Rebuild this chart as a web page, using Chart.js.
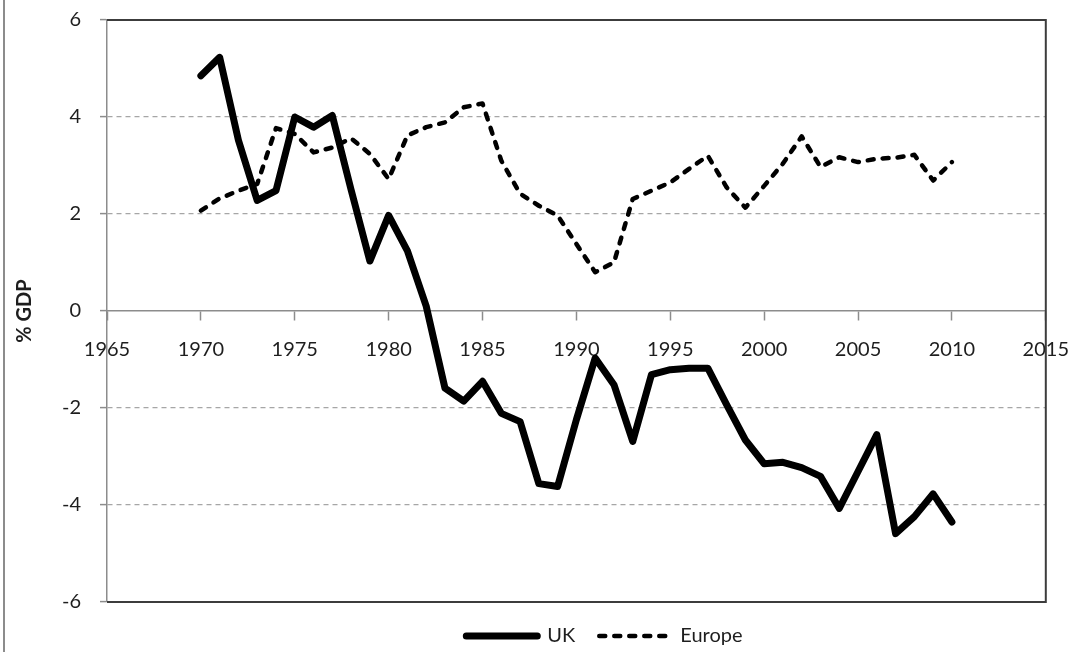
<!DOCTYPE html>
<html lang="en">
<head>
  <meta charset="UTF-8">
  <title>% GDP – UK vs Europe</title>
  <style>
    html, body { margin: 0; padding: 0; background: #fff; }
    #wrap { position: relative; width: 1087px; height: 652px; }
    #frame { position: absolute; left: 3px; top: 0; width: 2px; height: 652px; background: #8c8c8c; }
    canvas { display: block; }
  </style>
</head>
<body>
  <div id="wrap">
    <canvas id="grafico" width="1087" height="652"></canvas>
    <div id="frame"></div>
  </div>
  <script src="https://cdn.jsdelivr.net/npm/chart.js"></script>
  <script>
    // dados
    const years = [1970, 1971, 1972, 1973, 1974, 1975, 1976, 1977, 1978, 1979,
                   1980, 1981, 1982, 1983, 1984, 1985, 1986, 1987, 1988, 1989,
                   1990, 1991, 1992, 1993, 1994, 1995, 1996, 1997, 1998, 1999,
                   2000, 2001, 2002, 2003, 2004, 2005, 2006, 2007, 2008, 2009,
                   2010];
    const uk = [4.85, 5.23, 3.52, 2.28, 2.48, 4.0, 3.79, 4.03, 2.5, 1.03,
                1.97, 1.24, 0.1, -1.59, -1.86, -1.45, -2.11, -2.28, -3.56, -3.62,
                -2.24, -0.97, -1.52, -2.69, -1.31, -1.21, -1.18, -1.18, -1.93, -2.66,
                -3.15, -3.12, -3.23, -3.41, -4.07, -3.31, -2.55, -4.59, -4.24, -3.77,
                -4.35];
    const europe = [2.07, 2.32, 2.48, 2.62, 3.77, 3.65, 3.27, 3.37, 3.56, 3.24,
                    2.72, 3.62, 3.79, 3.89, 4.2, 4.28, 3.1, 2.42, 2.17, 1.97,
                    1.38, 0.8, 1.0, 2.31, 2.48, 2.65, 2.93, 3.2, 2.55, 2.13,
                    2.58, 3.04, 3.6, 2.97, 3.17, 3.07, 3.14, 3.16, 3.22, 2.69,
                    3.07];
    const xTicks = [1965, 1970, 1975, 1980, 1985, 1990, 1995, 2000, 2005, 2010, 2015];
    const yTicks = [-6, -4, -2, 0, 2, 4, 6];
    const seriesNames = ['UK', 'Europe'];
    const yTitle = '% GDP';

    // borda da área do gráfico (topo, direita, base) + ajuste da legenda
    const molduraPlugin = {
      id: 'moldura',
      afterLayout(chart) {
        // legenda do original fica um pouco à direita do centro
        chart.legend.left += 28;
        chart.legend.right += 28;
      },
      beforeDatasetsDraw(chart) {
        const { ctx, chartArea: a } = chart;
        ctx.save();
        ctx.strokeStyle = '#3c3c3c';
        ctx.lineWidth = 2;
        ctx.beginPath();
        ctx.moveTo(a.left, a.top);
        ctx.lineTo(a.right, a.top);
        ctx.lineTo(a.right, a.bottom);
        ctx.lineTo(a.left, a.bottom);
        ctx.stroke();
        ctx.restore();
      }
    };

    function desenhar() {
      Chart.defaults.font.family = 'Lato';
      Chart.defaults.color = '#1e1e1e';

      const ctx = document.getElementById('grafico').getContext('2d');
      new Chart(ctx, {
        type: 'line',
        data: {
          datasets: [{
            label: seriesNames[0],
            data: years.map((y, i) => ({ x: y, y: uk[i] })),
            borderColor: '#000',
            backgroundColor: '#000',
            borderWidth: 7,
            borderCapStyle: 'round',
            borderJoinStyle: 'round',
            pointRadius: 0,
            tension: 0
          }, {
            label: seriesNames[1],
            data: years.map((y, i) => ({ x: y, y: europe[i] })),
            borderColor: '#000',
            backgroundColor: '#000',
            borderWidth: 4.5,
            borderDash: [6, 9],
            borderCapStyle: 'round',
            borderJoinStyle: 'round',
            pointRadius: 0,
            tension: 0
          }]
        },
        options: {
          responsive: false,
          animation: false,
          devicePixelRatio: 1,
          layout: { padding: { top: 20, right: 33, left: 0, bottom: -4 } },
          plugins: {
            legend: {
              position: 'bottom',
              fullSize: false,
              labels: {
                usePointStyle: true,
                pointStyle: 'line',
                pointStyleWidth: 71,
                padding: 24,
                font: { size: 20 },
                color: '#1e1e1e',
                generateLabels: chart => {
                  const items = Chart.defaults.plugins.legend.labels.generateLabels(chart);
                  items.forEach((it, i) => {
                    const ds = chart.data.datasets[i];
                    it.lineDash = ds.borderDash || [];
                    it.lineWidth = ds.borderWidth;
                    it.lineCap = 'round';
                    it.strokeStyle = ds.borderColor;
                  });
                  return items;
                }
              }
            },
            tooltip: { enabled: false }
          },
          scales: {
            x: {
              type: 'linear',
              position: { y: 0 },
              min: 1965,
              max: 2015,
              afterBuildTicks: s => { s.ticks = xTicks.map(v => ({ value: v })); },
              ticks: {
                callback: v => String(v),
                font: { size: 20 },
                padding: 18,
                maxRotation: 0,
                autoSkip: false
              },
              grid: {
                drawOnChartArea: false,
                tickLength: 9,
                tickColor: '#8c8c8c',
                tickWidth: 1.5
              },
              border: { color: '#8c8c8c', width: 1.5 }
            },
            y: {
              min: -6,
              max: 6,
              afterBuildTicks: s => { s.ticks = yTicks.map(v => ({ value: v })); },
              afterFit: s => {
                s.width = 107;
                s.paddingTop = 10;
                s.paddingBottom = 10;
              },
              ticks: {
                callback: v => String(v),
                font: { size: 20 },
                padding: 19
              },
              grid: {
                color: c => (c.tick && [0, 6, -6].includes(c.tick.value)) ? 'rgba(0,0,0,0)' : '#a6a6a6',
                lineWidth: 1.2,
                tickLength: 7,
                tickColor: '#8c8c8c',
                tickWidth: 1.5,
                tickBorderDash: []
              },
              border: { color: '#8c8c8c', width: 1.5, dash: [5, 4] },
              title: {
                display: true,
                text: yTitle,
                font: { size: 20, weight: 'bold' },
                color: '#1e1e1e',
                padding: { top: 13, bottom: 0 }
              }
            }
          }
        },
        plugins: [molduraPlugin]
      });
    }

    if (document.fonts && document.fonts.load) {
      document.fonts.load('20px Lato').then(desenhar, desenhar);
    } else {
      desenhar();
    }
  </script>
</body>
</html>
